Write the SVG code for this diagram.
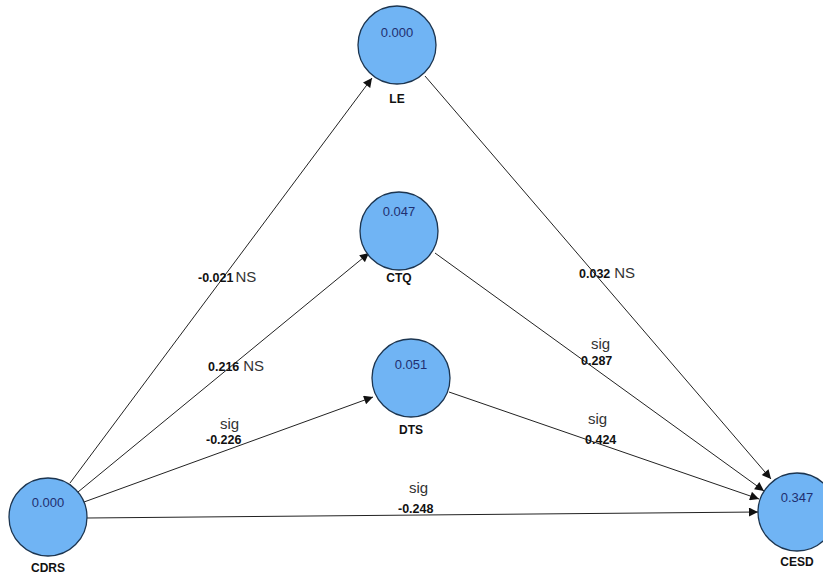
<svg xmlns="http://www.w3.org/2000/svg" width="823" height="574" viewBox="0 0 823 574">
<style>
.node{fill:#70b4f4;stroke:#1c3550;stroke-width:1.3}
.val{font-family:"Liberation Sans",Arial,sans-serif;font-size:13px;fill:#1f2f70;text-anchor:middle}
.lbl{font-family:"Liberation Sans",Arial,sans-serif;font-size:12px;font-weight:bold;fill:#111;text-anchor:middle}
.edge{stroke:#222;stroke-width:1;fill:none;marker-end:url(#ah)}
.t{font-family:"Liberation Sans",Arial,sans-serif;font-size:15px;fill:#333}
.b{font-family:"Liberation Sans",Arial,sans-serif;font-size:12.5px;font-weight:bold;fill:#111}
</style>
<defs>
<marker id="ah" viewBox="0 0 10 10" refX="10" refY="5" markerWidth="11" markerHeight="9" markerUnits="userSpaceOnUse" orient="auto">
<path d="M0,0 L10,5 L0,10 z" fill="#111"/>
</marker>
</defs>
<rect width="823" height="574" fill="#fff"/>
<g id="connectors">
<line class="edge" x1="70" y1="483" x2="372" y2="78"/>
<line class="edge" x1="78" y1="492" x2="369" y2="253"/>
<line class="edge" x1="84" y1="502" x2="373" y2="397"/>
<line class="edge" x1="87" y1="518" x2="758" y2="512"/>
<line class="edge" x1="425" y1="76" x2="771" y2="479"/>
<line class="edge" x1="435" y1="253" x2="764" y2="491"/>
<line class="edge" x1="449" y1="392" x2="759" y2="499"/>
</g>
<g id="edge-labels">
<text x="198" y="282"><tspan class="b">-0.021</tspan><tspan class="t" dx="2">NS</tspan></text>
<text x="208" y="371"><tspan class="b">0.216</tspan><tspan class="t" dx="4">NS</tspan></text>
<text class="t" x="220" y="429">sig</text>
<text class="b" x="206" y="444">-0.226</text>
<text class="t" x="409" y="493">sig</text>
<text class="b" x="398" y="513">-0.248</text>
<text x="579" y="278"><tspan class="b">0.032</tspan><tspan class="t" dx="4">NS</tspan></text>
<text class="t" x="591" y="349">sig</text>
<text class="b" x="581" y="365">0.287</text>
<text class="t" x="588" y="424">sig</text>
<text class="b" x="585" y="444">0.424</text>
</g>
<g id="CDRS"><circle class="node" cx="48" cy="517" r="39"/><text class="val" x="48" y="507">0.000</text><text class="lbl" x="48" y="572">CDRS</text></g>
<g id="LE"><circle class="node" cx="397" cy="45" r="39"/><text class="val" x="397" y="37">0.000</text><text class="lbl" x="397" y="103">LE</text></g>
<g id="CTQ"><circle class="node" cx="399" cy="231" r="39"/><text class="val" x="399" y="216">0.047</text><text class="lbl" x="399" y="282">CTQ</text></g>
<g id="DTS"><circle class="node" cx="411" cy="378" r="39"/><text class="val" x="411" y="369">0.051</text><text class="lbl" x="411" y="434">DTS</text></g>
<g id="CESD"><circle class="node" cx="797" cy="512" r="39"/><text class="val" x="797" y="502">0.347</text><text class="lbl" x="797" y="566">CESD</text></g>
</svg>
